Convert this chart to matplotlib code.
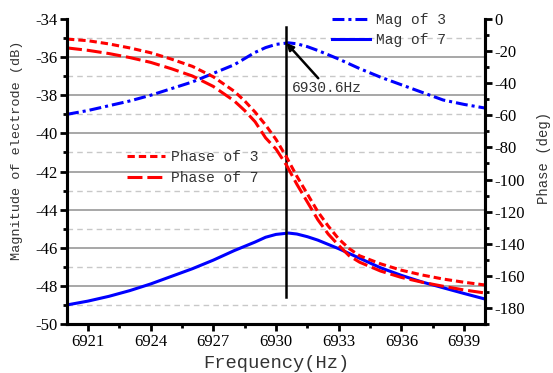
import numpy as np
import matplotlib
matplotlib.use("Agg")
import matplotlib.pyplot as plt
from matplotlib.ticker import MultipleLocator

# frequency grid points (Hz)
freq_mag = [6920, 6921, 6922, 6923, 6924, 6925, 6926, 6927, 6928, 6929, 6929.5,
            6930, 6930.6, 6931, 6931.5, 6932, 6933, 6934, 6935, 6936, 6937,
            6938, 6939, 6940]
mag3 = [-39.0, -38.8, -38.55, -38.3, -38.0, -37.65, -37.3, -36.85, -36.4, -35.75,
        -35.5, -35.33, -35.25, -35.3, -35.45, -35.65, -36.1, -36.6, -37.05, -37.45,
        -37.85, -38.25, -38.48, -38.67]
mag7 = [-49.0, -48.8, -48.55, -48.25, -47.9, -47.5, -47.1, -46.65, -46.15, -45.7,
        -45.45, -45.3, -45.23, -45.28, -45.42, -45.6, -46.05, -46.55, -47.05, -47.45,
        -47.8, -48.1, -48.4, -48.69]

freq_ph = [6920, 6921, 6922, 6923, 6924, 6925, 6926, 6927, 6928, 6928.5, 6929,
           6929.5, 6930, 6930.5, 6931, 6931.5, 6932, 6932.5, 6933, 6933.5, 6934,
           6935, 6936, 6937, 6938, 6939, 6940]
phase3 = [-12.5, -13.5, -15.5, -18, -21, -25, -29.5, -36, -45, -51, -58,
          -66, -75, -86, -98, -109, -120, -129, -137, -143, -147.5,
          -152.5, -156.5, -159.5, -162, -164, -165.7]
phase7 = [-18, -19.5, -21.5, -24, -27, -31, -35.5, -42, -51, -57, -64,
          -74, -81, -91, -103, -114, -125, -134, -141, -147.5, -151.5,
          -157, -161, -164, -166.5, -168.8, -170.7]

peak_f = 6930.5
x_ticks = [6921, 6924, 6927, 6930, 6933, 6936, 6939]
major_grid = [-36, -38, -40, -42, -44, -46, -48]
minor_grid = [-35, -37, -39, -41, -43, -45, -47, -49]

mono = "Liberation Mono"
txt_col = "#333333"
plt.rcParams["font.family"] = "Liberation Serif"
plt.rcParams["axes.unicode_minus"] = False

fig = plt.figure(figsize=(5.53, 3.73), dpi=100)
ax = fig.add_axes([0.1212, 0.1314, 0.7558, 0.8176])
ax2 = ax.twinx()

# grid lines
for g in major_grid:
    ax.axhline(g, color="#a0a0a0", lw=1.3, zorder=0)
for g in minor_grid:
    ax.axhline(g, color="#c8c8c8", lw=1.0, ls=(0, (4, 3)), zorder=0)

lw = 2.2
ax.plot(freq_mag, mag3, color="#0000ff", lw=lw, dashes=(3.9, 1.3, 1.0, 1.3), label="Mag of 3")
ax.plot(freq_mag, mag7, color="#0000ff", lw=lw, label="Mag of 7")
ax2.plot(freq_ph, phase3, color="#ff0000", lw=lw, dashes=(2.4, 1.3), label="Phase of 3")
ax2.plot(freq_ph, phase7, color="#ff0000", lw=lw, dashes=(4.9, 1.6), label="Phase of 7")

ax.plot([peak_f, peak_f], [-34.4, -48.6], color="black", lw=1.8, zorder=5)
ax.annotate("6930.6Hz", xy=(peak_f, -35.26), xytext=(6930.77, -37.62),
            fontsize=10.5, family=mono, color=txt_col, va="center",
            arrowprops=dict(arrowstyle="-|>", color="black", lw=1.8,
                            shrinkA=0, shrinkB=0, mutation_scale=10),
            zorder=6)

ax.set_xlim(6920, 6940)
ax.set_ylim(-50, -34)
ax2.set_ylim(-190, 0)

ax.set_xticks(x_ticks)
ax.xaxis.set_minor_locator(MultipleLocator(1.5))
ax.yaxis.set_major_locator(MultipleLocator(2))
ax.yaxis.set_minor_locator(MultipleLocator(1))
ax2.set_yticks(np.arange(-180, 1, 20))
ax2.yaxis.set_minor_locator(MultipleLocator(10))

for a in (ax, ax2):
    a.spines["top"].set_visible(False)
    for s in a.spines.values():
        s.set_linewidth(2.2)
    a.tick_params(which="major", direction="out", length=5, width=2, labelsize=12, pad=2)
    a.tick_params(which="minor", direction="out", length=3, width=2)

ax.set_xlabel("Frequency(Hz)", family=mono, fontsize=13.5, color=txt_col, labelpad=4)
ax.set_ylabel("Magnitude of electrode (dB)", family=mono, fontsize=9.7, color=txt_col)
ax.yaxis.set_label_coords(-0.105, 0.57)
ax2.set_ylabel("Phase (deg)", family=mono, fontsize=10, color=txt_col)
ax2.yaxis.set_label_coords(1.124, 0.544)

leg1 = ax.legend(loc="upper left", bbox_to_anchor=(0.62, 1.04), frameon=False,
                 prop={"family": mono, "size": 10.5}, handlelength=2.6,
                 labelspacing=0.45, handletextpad=0.4, borderaxespad=0)
for t in leg1.get_texts():
    t.set_color(txt_col)
leg2 = ax2.legend(loc="upper left", bbox_to_anchor=(0.13, 0.59), frameon=False,
                  prop={"family": mono, "size": 10.5}, handlelength=2.6,
                  labelspacing=0.5, handletextpad=0.4, borderaxespad=0)
for t in leg2.get_texts():
    t.set_color(txt_col)

fig.savefig("out.png", dpi=100)
